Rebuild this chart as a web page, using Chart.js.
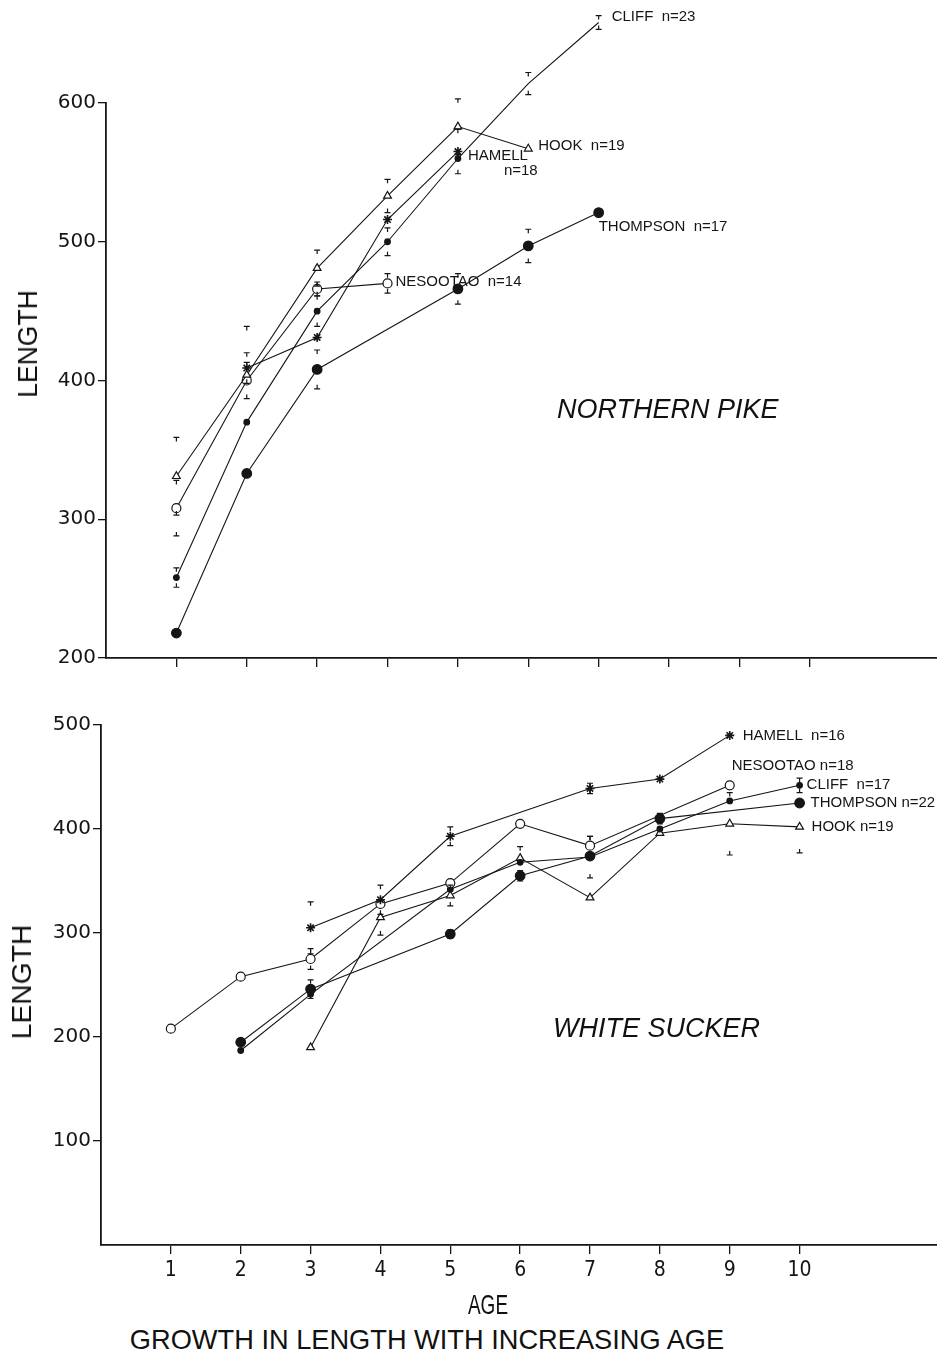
<!DOCTYPE html>
<html>
<head>
<meta charset="utf-8">
<script src="https://cdn.jsdelivr.net/npm/chart.js@4.4.1/dist/chart.umd.min.js"></script>
<style>
  body { margin: 0; background: #fff; }
  #page { position: relative; width: 937px; height: 1359px; overflow: hidden; background: #fff; color: #111; }
  #page canvas { position: absolute; left: 0; }
  .txt { position: absolute; white-space: nowrap; line-height: 1; font-family: 'Liberation Sans', Arial, sans-serif; }
  .fish { font-style: italic; font-size: 27px; }
  .cond { font-size: 28px; }
</style>
</head>
<body>
<div id="page">
  <canvas id="pike" width="944" height="690" style="top:0"></canvas>
  <canvas id="sucker" width="944" height="620" style="top:700px"></canvas>

  <div class="txt cond fit" data-w="108" data-rot="1" style="left:28px;top:344px">LENGTH</div>
  <div class="txt cond fit" data-w="115" data-rot="1" style="left:22px;top:982px">LENGTH</div>
  <div class="txt fish" style="left:557px;top:396px">NORTHERN PIKE</div>
  <div class="txt fish" style="left:553px;top:1015px">WHITE SUCKER</div>
  <div class="txt cond fit" data-w="40" style="left:488px;top:1305px">AGE</div>
  <div class="txt cond fit" data-w="594" style="left:427px;top:1340px">GROWTH IN LENGTH WITH INCREASING AGE</div>
</div>

<script>
// ages on the x axis, mean lengths per lake, and +/- error half-widths
const ages = [1, 2, 3, 4, 5, 6, 7, 8, 9, 10];
const pikeTicks = [200, 300, 400, 500, 600];
const suckerTicks = [100, 200, 300, 400, 500];

// Northern pike
const pikeCliff     = [258, 370, 450, 500, 560, 614, 658, null, null, null];
const pikeHook      = [331, 404, 481, 533, 583, 567, null, null, null, null];
const pikeHamell    = [null, 409, 431, 516, 565, null, null, null, null, null];
const pikeThompson  = [218, 333, 408, null, 466, 497, 521, null, null, null];
const pikeNesootao  = [308, 400, 466, 470, null, null, null, null, null, null];

const pikeCliffErr    = [7, null, 11, 10, null, 8, 5, null, null, null];
const pikeHookErr     = [28, 35, 13, 12, 20, null, null, null, null, null];
const pikeHamellErr   = [null, 11, null, null, 16, null, null, null, null, null];
const pikeThompsonErr = [null, null, 14, null, 11, 12, null, null, null, null];
const pikeNesootaoErr = [20, 13, 5, 7, null, null, null, null, null, null];

// White sucker
const suckerHamell   = [null, null, 305, 332, 393, null, 439, 448, 490, null];
const suckerNesootao = [208, 258, 275, 328, 348, 405, 384, null, 442, null];
const suckerCliff    = [null, 187, 241, null, 342, 368, 373, 400, 427, 442];
const suckerThompson = [null, 195, 246, null, 299, 355, 374, 410, null, 425];
const suckerHook     = [null, null, 190, 315, 336, 372, 334, 396, 405, 402];

const suckerHamellErr   = [null, null, 25, 14, 9, null, 5, null, null, null];
const suckerNesootaoErr = [null, null, 10, null, null, null, 9, null, null, null];
const suckerCliffErr    = [null, null, null, null, null, 15, 20, null, null, 7];
const suckerThompsonErr = [null, null, 9, null, 4, 5, null, 5, null, null];
const suckerHookErr     = [null, null, null, 17, 10, null, null, null, 30, 25];

const INK = '#151515';

const pts = values => ages.map((a, i) => ({ x: a, y: values[i] }));

// marker looks for each lake
const looks = {
  cliff:    { pointStyle: 'circle',   pointRadius: 2.8, pointBackgroundColor: INK },
  thompson: { pointStyle: 'circle',   pointRadius: 4.8, pointBackgroundColor: INK },
  hook:     { pointStyle: 'triangle', pointRadius: 4.5, pointBackgroundColor: '#fff' },
  nesootao: { pointStyle: 'circle',   pointRadius: 4.5, pointBackgroundColor: '#fff' },
  hamell:   { pointStyle: 'star',     pointRadius: 4.5, pointBackgroundColor: INK, pointBorderWidth: 1.6 }
};

function line(values, errors, look, tag) {
  return Object.assign({
    data: pts(values),
    errors: errors,
    tag: tag,
    borderColor: INK,
    borderWidth: 1.1,
    pointBorderColor: INK,
    pointBorderWidth: 1.2,
    spanGaps: true,
    tension: 0,
    clip: false
  }, looks[look]);
}

// little T / ⊥ caps above and below a mean
const errorCaps = {
  id: 'errorCaps',
  afterDatasetsDraw(chart) {
    const ctx = chart.ctx, ys = chart.scales.y;
    ctx.save();
    ctx.strokeStyle = INK;
    ctx.lineWidth = 1.2;
    chart.data.datasets.forEach((ds, di) => {
      if (!ds.errors) return;
      const meta = chart.getDatasetMeta(di);
      ds.errors.forEach((e, i) => {
        const v = ds.data[i].y;
        if (e == null || v == null) return;
        const px = meta.data[i].x;
        const hi = ys.getPixelForValue(v + e), lo = ys.getPixelForValue(v - e);
        ctx.beginPath();
        ctx.moveTo(px - 3, hi); ctx.lineTo(px + 3, hi);
        ctx.moveTo(px, hi); ctx.lineTo(px, hi + 4);
        ctx.moveTo(px - 3, lo); ctx.lineTo(px + 3, lo);
        ctx.moveTo(px, lo); ctx.lineTo(px, lo - 4);
        ctx.stroke();
      });
    });
    ctx.restore();
  }
};

// lake name next to the last point of each line
const endLabels = {
  id: 'endLabels',
  afterDatasetsDraw(chart, args, opts) {
    const ctx = chart.ctx;
    ctx.save();
    ctx.fillStyle = INK;
    ctx.font = opts.font;
    ctx.textBaseline = 'middle';
    chart.data.datasets.forEach((ds, di) => {
      if (!ds.tag) return;
      const meta = chart.getDatasetMeta(di);
      let last = -1;
      ds.data.forEach((p, i) => { if (p.y != null) last = i; });
      const el = meta.data[last];
      ds.tag.forEach(([text, dx, dy]) => ctx.fillText(text, el.x + dx, el.y + dy));
    });
    ctx.restore();
  }
};

function scales(yMin, yMax, yTicks, xMax, showAges, yWidth, xHeight) {
  return {
    x: {
      type: 'linear', min: 0, max: xMax,
      afterBuildTicks: s => { s.ticks = ages.map(v => ({ value: v })); },
      afterFit: s => { s.height = xHeight; },
      grid: { drawOnChartArea: false, drawTicks: true, tickLength: 9, color: INK, lineWidth: 1.3 },
      border: { display: true, color: INK, width: 1.8 },
      ticks: {
        display: showAges, color: INK, padding: 4, maxRotation: 0, autoSkip: false,
        font: { family: "'Liberation Sans Narrow', 'DejaVu Sans Condensed', 'Liberation Sans'", size: 21 }
      }
    },
    y: {
      min: yMin, max: yMax,
      afterBuildTicks: s => { s.ticks = yTicks.map(v => ({ value: v })); },
      afterFit: s => { s.width = yWidth; },
      grid: { drawOnChartArea: false, tickLength: 8, color: INK, lineWidth: 1.3 },
      border: { display: true, color: INK, width: 1.8 },
      ticks: { color: INK, padding: 2, font: { family: "'DejaVu Sans'", size: 20 } }
    }
  };
}

const common = {
  responsive: false,
  animation: false,
  events: []
};

new Chart(document.getElementById('pike'), {
  type: 'line',
  data: {
    datasets: [
      line(pikeCliff, pikeCliffErr, 'cliff', [['CLIFF  n=23', 13, -6]]),
      line(pikeHook, pikeHookErr, 'hook', [['HOOK  n=19', 10, -3]]),
      line(pikeHamell, pikeHamellErr, 'hamell', [['HAMELL', 10, 4], ['n=18', 46, 19]]),
      line(pikeThompson, pikeThompsonErr, 'thompson', [['THOMPSON  n=17', 0, 14]]),
      line(pikeNesootao, pikeNesootaoErr, 'nesootao', [['NESOOTAO  n=14', 8, -2]])
    ]
  },
  options: Object.assign({}, common, {
    layout: { padding: { top: 103, right: 0, left: 0, bottom: 0 } },
    scales: scales(200, 600, pikeTicks, 11.82, false, 106, 32),
    plugins: {
      legend: { display: false },
      tooltip: { enabled: false },
      endLabels: { font: "15px 'Liberation Sans', Arial, sans-serif" }
    }
  }),
  plugins: [errorCaps, endLabels]
});

new Chart(document.getElementById('sucker'), {
  type: 'line',
  data: {
    datasets: [
      line(suckerHamell, suckerHamellErr, 'hamell', [['HAMELL  n=16', 13, 0]]),
      line(suckerNesootao, suckerNesootaoErr, 'nesootao', [['NESOOTAO n=18', 2, -19]]),
      line(suckerCliff, suckerCliffErr, 'cliff', [['CLIFF  n=17', 7, 0]]),
      line(suckerThompson, suckerThompsonErr, 'thompson', [['THOMPSON n=22', 11, 0]]),
      line(suckerHook, suckerHookErr, 'hook', [['HOOK n=19', 12, 0]])
    ]
  },
  options: Object.assign({}, common, {
    layout: { padding: { top: 25, right: 0, left: 0, bottom: 0 } },
    scales: scales(0, 500, suckerTicks, 11.98, true, 101, 75),
    plugins: {
      legend: { display: false },
      tooltip: { enabled: false },
      endLabels: { font: "15px 'Liberation Sans', Arial, sans-serif" }
    }
  }),
  plugins: [errorCaps, endLabels]
});

// narrow headings: squeeze each to its printed width, centred on its anchor
document.querySelectorAll('.fit').forEach(el => {
  const k = Number(el.dataset.w) / el.offsetWidth;
  const rot = el.dataset.rot ? ' rotate(-90deg)' : '';
  el.style.transform = 'translate(-50%, -50%)' + rot + ' scaleX(' + k.toFixed(3) + ')';
});
</script>
</body>
</html>
